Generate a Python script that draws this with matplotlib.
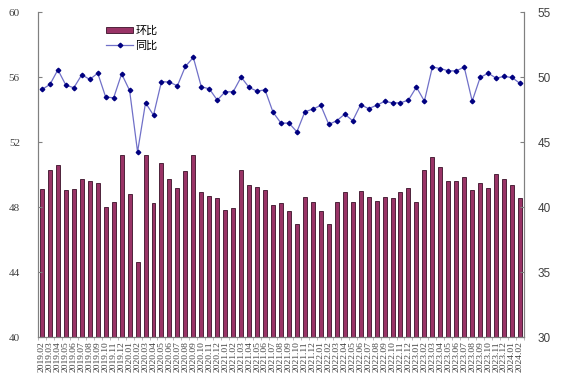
import numpy as np
import matplotlib.pyplot as plt
from matplotlib.ticker import MultipleLocator

plt.rcParams['font.family'] = ['Noto Sans CJK SC', 'DejaVu Sans']

# Data
months = []
for y in range(2019, 2025):
    for m in range(1, 13):
        if (y == 2019 and m < 2) or (y == 2024 and m > 2):
            continue
        months.append('%d.%02d' % (y, m))

mom = [49.1, 50.28, 50.58, 49.03, 49.1, 49.72, 49.58, 49.46, 47.98, 48.3,
       51.18, 48.82, 44.64, 51.18, 48.25, 50.7, 49.72, 49.17, 50.23, 51.22,
       48.95, 48.66, 48.53, 47.84, 47.92, 50.25, 49.35, 49.25, 49.08, 48.1,
       48.22, 47.75, 46.98, 48.6, 48.33, 47.75, 46.98, 48.3, 48.92, 48.3,
       48.96, 48.59, 48.4, 48.62, 48.53, 48.95, 49.17, 48.33, 50.28, 51.08,
       50.44, 49.58, 49.58, 49.83, 49.08, 49.51, 49.17, 50.06, 49.75, 49.38,
       48.53]

yoy = [49.05, 49.43, 50.56, 49.38, 49.18, 50.18, 49.82, 50.3, 48.46, 48.41,
       50.25, 48.97, 44.25, 48.02, 47.07, 49.66, 49.61, 49.33, 50.82, 51.51,
       49.25, 49.1, 48.23, 48.87, 48.87, 50.0, 49.2, 48.92, 49.02, 47.3,
       46.46, 46.46, 45.79, 47.33, 47.54, 47.82, 46.36, 46.64, 47.15, 46.64,
       47.88, 47.57, 47.83, 48.13, 48.02, 48.02, 48.23, 49.23, 48.15, 50.77,
       50.66, 50.48, 50.48, 50.77, 48.15, 49.97, 50.3, 49.92, 50.05, 49.97,
       49.51]

x_pos = np.arange(len(months))

fig = plt.figure(figsize=(5.61, 3.92), dpi=100)
ax = fig.add_axes([0.0677, 0.1403, 0.8663, 0.8288])
ax2 = ax.twinx()

bars = ax.bar(x_pos, mom, 0.5, color='#993366', edgecolor='#3a1028',
              linewidth=0.6, label='环比')
line, = ax2.plot(x_pos, yoy, color='#7070c8', linewidth=0.9, marker='D',
                 markersize=2.3, markerfacecolor='#000080',
                 markeredgecolor='#000080', label='同比')

ax.set_xlim(-0.5, len(months) - 0.5)
ax.set_ylim(40, 60)
ax.yaxis.set_major_locator(MultipleLocator(4))
ax2.set_ylim(30, 55)
ax2.yaxis.set_major_locator(MultipleLocator(5))

grey = '#808080'
for a in (ax, ax2):
    a.spines['top'].set_visible(False)
    for s in ('left', 'right', 'bottom'):
        a.spines[s].set_color(grey)
        a.spines[s].set_linewidth(0.8)

ax.set_xticks(x_pos)
ax.set_xticklabels(months, rotation=90, fontsize=6.8, color='#404040',
                   family=['Liberation Serif'])
ax.tick_params(axis='x', length=0, pad=3)
ax.set_xticks(np.arange(-0.5, len(months), 1), minor=True)
ax.tick_params(axis='x', which='minor', length=2, color='#b0b0b0', direction='out')

ax.tick_params(axis='y', direction='in', length=3, color=grey, labelsize=8,
               labelcolor='#404040', pad=13)
for t in ax.get_yticklabels():
    t.set_family(['Liberation Serif'])
ax2.tick_params(axis='y', direction='in', length=3, color=grey, labelsize=8.5,
                labelcolor='#404040', pad=10)
for t in ax2.get_yticklabels():
    t.set_family(['Liberation Sans'])

ax.legend([bars, line], ['环比', '同比'], loc='upper left',
          bbox_to_anchor=(0.12, 0.99), frameon=False, fontsize=8,
          handlelength=2.4, handleheight=0.5, handletextpad=0.2,
          labelspacing=0.45)

plt.savefig('out.png', dpi=100)
